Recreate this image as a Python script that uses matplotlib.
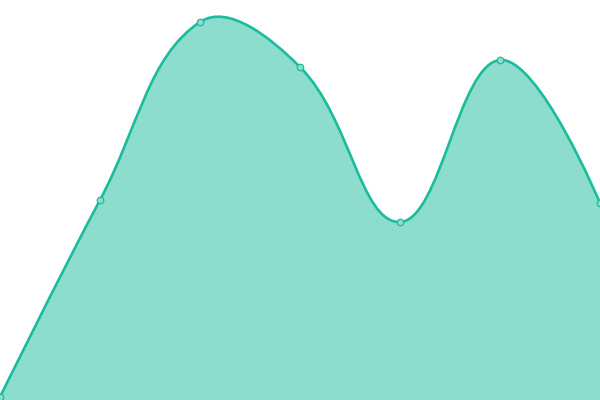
import numpy as np
import matplotlib
matplotlib.use("Agg")
import matplotlib.pyplot as plt
from matplotlib.path import Path
from matplotlib.patches import PathPatch

# values (one point per category)
labels = ["A", "B", "C", "D", "E", "F", "G"]
values = [3, 200, 378, 333, 178, 340, 197]

LINE = "#1abc9c"
FILL = (26 / 255, 188 / 255, 156 / 255, 0.5)
TENSION = 0.4


def spline_controls(pts, tension):
    # chart.js style control points, computed in pixel space
    n = len(pts)
    prev_cp = pts.copy()
    next_cp = pts.copy()
    for i in range(1, n - 1):
        p0, p1, p2 = pts[i - 1], pts[i], pts[i + 1]
        d01 = np.hypot(*(p1 - p0))
        d12 = np.hypot(*(p2 - p1))
        s01 = d01 / (d01 + d12)
        s12 = d12 / (d01 + d12)
        prev_cp[i] = p1 - tension * s01 * (p2 - p0)
        next_cp[i] = p1 + tension * s12 * (p2 - p0)
    return prev_cp, next_cp


fig = plt.figure(figsize=(6, 4), dpi=100)
ax = fig.add_axes([0, 0, 1, 1])
ax.set_xlim(0, len(values) - 1)
ax.set_ylim(0, 400)
ax.axis("off")

x = np.arange(len(values))
pix = ax.transData.transform(np.column_stack([x, values]))
prev_cp, next_cp = spline_controls(pix, TENSION)

verts = [pix[0]]
codes = [Path.MOVETO]
for i in range(len(pix) - 1):
    verts += [next_cp[i], prev_cp[i + 1], pix[i + 1]]
    codes += [Path.CURVE4] * 3
inv = ax.transData.inverted()
verts = inv.transform(np.array(verts))

line_path = Path(verts, codes)
fill_verts = np.vstack([verts, [[x[-1], 0], [x[0], 0], verts[0]]])
fill_codes = codes + [Path.LINETO, Path.LINETO, Path.CLOSEPOLY]
fill_path = Path(fill_verts, fill_codes)

ax.add_patch(PathPatch(fill_path, facecolor=FILL, edgecolor="none"))
ax.add_patch(PathPatch(line_path, facecolor="none", edgecolor=LINE, lw=1.9,
                       capstyle="round", joinstyle="round", clip_on=False))
ax.scatter(x, values, s=22, facecolor="#8ae0cf", edgecolor=LINE, lw=0.9,
           zorder=3, clip_on=True)

fig.savefig("out.png", dpi=100)
